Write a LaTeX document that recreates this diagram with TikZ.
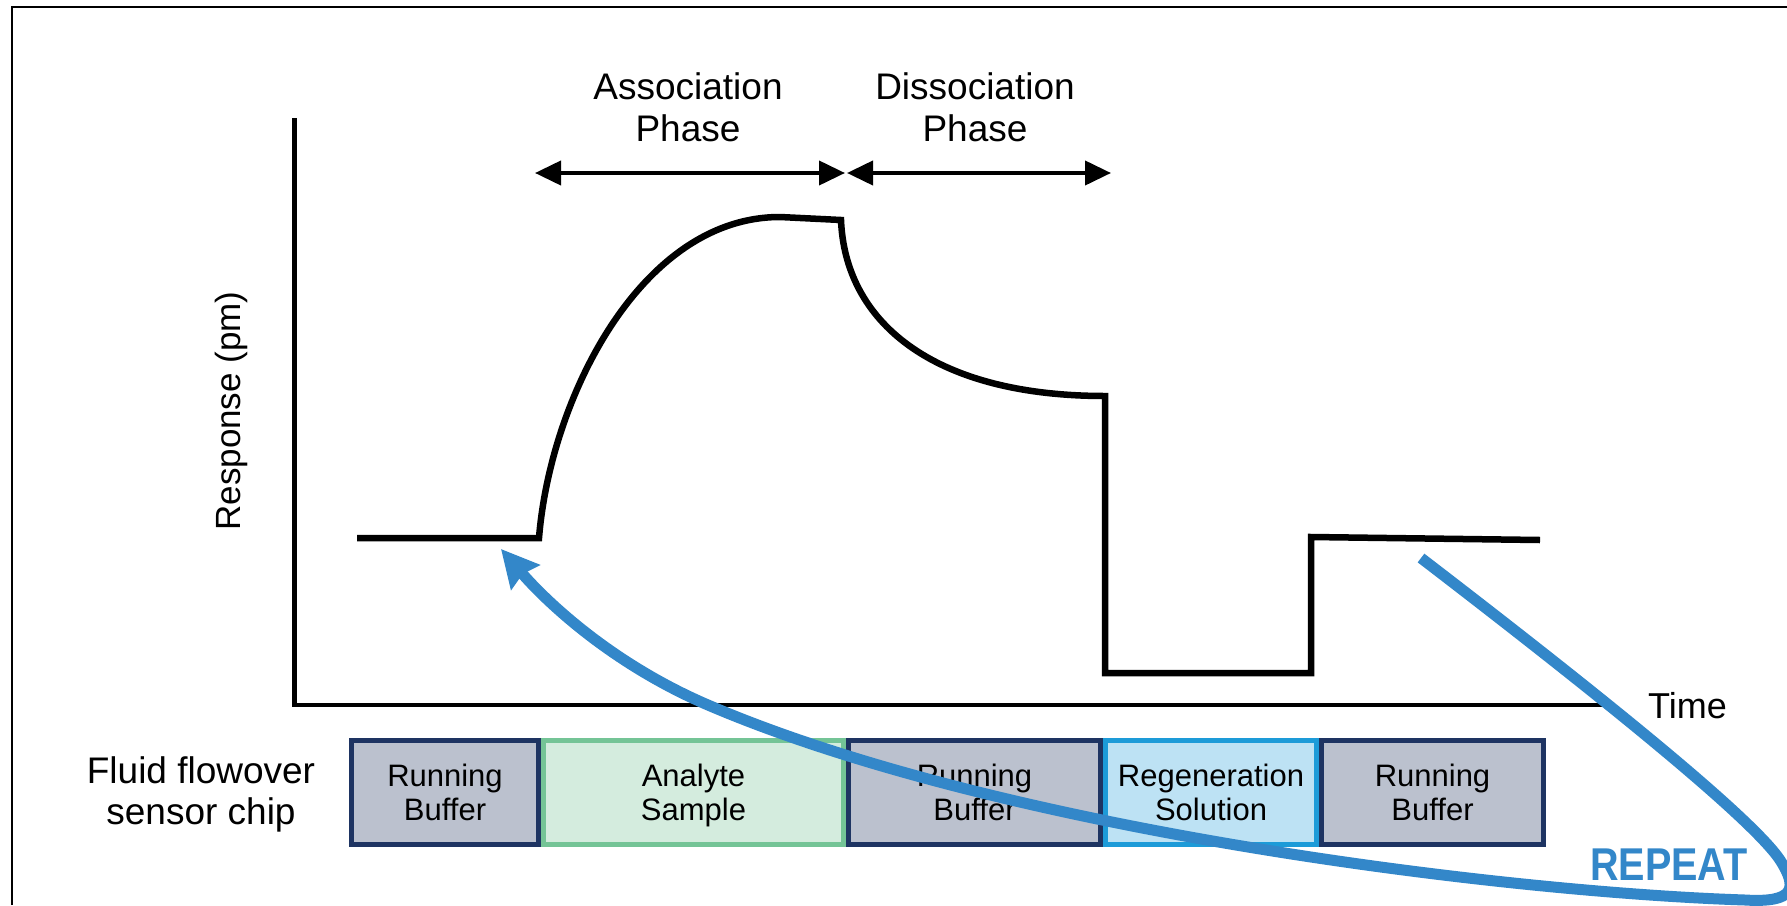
\documentclass[tikz,border=0pt]{standalone}
\usepackage{fontspec}
\setmainfont{Liberation Sans}
\usepackage{graphicx}
\usetikzlibrary{arrows.meta}
\definecolor{navy}{HTML}{1E3462}
\definecolor{grayfill}{HTML}{BBC1CE}
\definecolor{greenfill}{HTML}{D4ECDE}
\definecolor{greenline}{HTML}{74C496}
\definecolor{bluefill}{HTML}{BDE2F4}
\definecolor{blueline}{HTML}{1D9BD8}
\definecolor{arrowblue}{HTML}{3387C9}
\begin{document}
\begin{tikzpicture}[x=1pt,y=-1pt,line join=miter,
  chip/.style={draw, line width=5pt, inner sep=0pt, minimum height=104pt, align=center,
    font=\fontsize{31}{34}\selectfont},
  runbuf/.style={chip, fill=grayfill, draw=navy},
  toplabel/.style={inner sep=0pt, align=center, font=\fontsize{37}{42}\selectfont},
  phasearrow/.style={line width=4pt, {Triangle[length=26pt,width=24pt]}-{Triangle[length=26pt,width=24pt]}},
  curve/.style={line width=6.5pt}]
\useasboundingbox (0,0) rectangle (1787,905);
\fill[white] (0,0) rectangle (1787,905);
% frame
\draw[line width=2pt] (12,905) -- (12,6.5) -- (1787,6.5);
% axes
\draw[line width=4.5pt] (294.5,118) -- (294.5,705) -- (1608,705);
\node[rotate=90, anchor=base, inner sep=0pt, font=\fontsize{35}{40}\selectfont] (resp) at (240,411) {Response (pm)};
\node[anchor=base west, inner sep=0pt, font=\fontsize{36}{40}\selectfont] (time) at (1648,718) {Time};
% response curve
\draw[curve] (357,538) -- (539,538)
  .. controls (550,400) and (640,217) .. (780,217)
  -- (841,220)
  .. controls (845,320) and (930,396) .. (1105,396)
  -- (1105,673) -- (1311,673) -- (1311,537) -- (1540,540);
% phase labels and arrows
\node[toplabel] (assoc) at (688,107) {Association\\Phase};
\node[toplabel] (dissoc) at (975,107) {Dissociation\\Phase};
\coordinate (a1) at (535,173); \coordinate (a2) at (845,173);
\coordinate (d1) at (847,173); \coordinate (d2) at (1111,173);
\draw[phasearrow] (a1) -- (a2);
\draw[phasearrow] (d1) -- (d2);
% sensor chip row
\node[inner sep=0pt, align=center, font=\fontsize{37}{41}\selectfont] (chiplabel) at (201,794) {Fluid flowover\\sensor chip};
\node[runbuf, minimum width=187pt] (rb1) at (445,792.5) {Running\\Buffer};
\node[chip, fill=greenfill, draw=greenline, minimum width=300pt] (as) at (693.5,792.5) {Analyte\\\smash{Sample}};
\node[runbuf, minimum width=252pt] (rb2) at (974.5,792.5) {Running\\Buffer};
\node[chip, fill=bluefill, draw=blueline, minimum width=211pt] (rs) at (1211,792.5) {Regeneration\\Solution};
\node[runbuf, minimum width=222pt] (rb3) at (1432.5,792.5) {Running\\Buffer};
% repeat arrow
\node[anchor=base west, inner sep=0pt, text=arrowblue, font=\fontsize{46}{50}\selectfont\bfseries] (repeat) at (1590,880) {\scalebox{0.86}[1]{REPEAT}};
\coordinate (rtail) at (1421,558);
\coordinate (rtip) at (501,549);
\draw[arrowblue, line width=11pt, -{Stealth[length=37pt,width=37pt,inset=4pt]}]
  (rtail) .. controls (1580,680) and (1750,815) .. (1780,860)
  .. controls (1798,888) and (1795,903) .. (1745,900)
  .. controls (1500,892) and (1000,830) .. (708,705)
  .. controls (610,663) and (545,600) .. (rtip);
\end{tikzpicture}
\end{document}
